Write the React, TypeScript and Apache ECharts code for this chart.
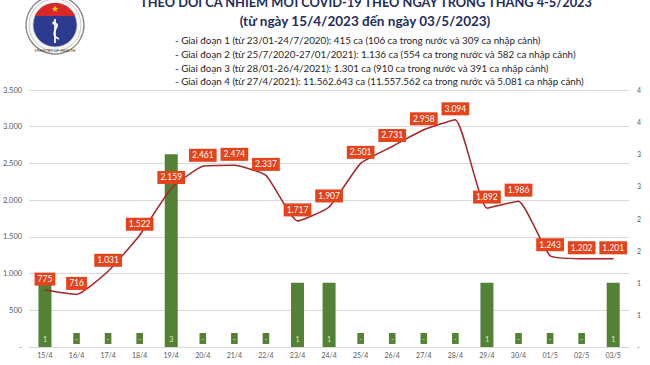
import React, { useEffect, useRef } from "react";
import * as echarts from "echarts";

const categories = ["15/4","16/4","17/4","18/4","19/4","20/4","21/4","22/4","23/4","24/4","25/4","26/4","27/4","28/4","29/4","30/4","01/5","02/5","03/5"];
const dailyCases = [775,716,1031,1522,2159,2461,2474,2337,1717,1907,2501,2731,2958,3094,1892,1986,1243,1202,1201];
const deaths = [1,0,0,0,3,0,0,0,1,1,0,0,0,0,1,0,0,0,1];

const titleLines = [
  "THEO DÕI CA NHIỄM MỚI COVID-19 THEO NGÀY TRONG THÁNG 4-5/2023",
  "(từ ngày 15/4/2023 đến ngày 03/5/2023)",
];
const periodLines = [
  "- Giai đoạn 1 (từ 23/01-24/7/2020): 415 ca (106 ca trong nước và 309 ca nhập cảnh)",
  "- Giai đoạn 2 (từ 25/7/2020-27/01/2021): 1.136 ca (554 ca trong nước và 582 ca nhập cảnh)",
  "- Giai đoạn 3 (từ 28/01-26/4/2021): 1.301 ca (910 ca trong nước và 391 ca nhập cảnh)",
  "- Giai đoạn 4 (từ 27/4/2021): 11.562.643 ca (11.557.562 ca trong nước và 5.081 ca nhập cảnh)",
];

const FONT = "Lato";

function fmtThousands(v: number): string {
  if (v === 0) return "-";
  return Math.round(v).toString().replace(/\B(?=(\d{3})+(?!\d))/g, ".");
}

function buildLogo(): any {
  const cx = 55, cy = 25, rOuter = 29, rInner = 22;
  const chordY = 16;
  const a = Math.abs(Math.asin((chordY - cy) / rInner));
  const segPts: number[][] = [];
  const steps = 28;
  for (let i = 0; i <= steps; i++) {
    const ang = Math.PI + a + (Math.PI - 2 * a) * (i / steps);
    segPts.push([cx + rInner * Math.cos(ang), cy + rInner * Math.sin(ang)]);
  }
  const starPts: number[][] = [];
  for (let i = 0; i < 10; i++) {
    const r = i % 2 === 0 ? 3.4 : 1.4;
    const ang = -Math.PI / 2 + (i * Math.PI) / 5;
    starPts.push([cx + r * Math.cos(ang), 9 + r * Math.sin(ang)]);
  }
  return {
    type: "group",
    silent: true,
    children: [
      { type: "circle", shape: { cx, cy, r: rOuter }, style: { fill: "#ffffff", stroke: "#8a8a8a", lineWidth: 1.4 } },
      { type: "circle", shape: { cx, cy, r: rOuter - 3 }, style: { fill: "#f6f6f6", stroke: "#b5b5b5", lineWidth: 0.7 } },
      { type: "circle", shape: { cx, cy, r: rInner }, style: { fill: "#2c3b8f", stroke: "#d0d0d0", lineWidth: 0.8 } },
      { type: "polygon", shape: { points: segPts }, style: { fill: "#d8262b" } },
      { type: "polygon", shape: { points: starPts }, style: { fill: "#ffd400" } },
      { type: "line", shape: { x1: cx, y1: 19, x2: cx, y2: 43 }, style: { stroke: "#ffffff", lineWidth: 1.7 } },
      { type: "bezierCurve", shape: { x1: cx - 1, y1: 23, cpx1: cx + 9, cpy1: 25, cpx2: cx - 9, cpy2: 33, x2: cx + 4, y2: 39 }, style: { stroke: "#ffffff", lineWidth: 1.7, fill: "none" } },
      { type: "circle", shape: { cx: cx - 1, cy: 23, r: 1.7 }, style: { fill: "#ffffff" } },
      { type: "text", x: cx, y: 50.5, style: { text: "MINISTRY OF HEALTH", fontSize: 4, fill: "#333", align: "center", verticalAlign: "middle", fontFamily: FONT } },
    ],
  };
}

export default function App() {
  const ref = useRef<HTMLDivElement>(null);
  useEffect(() => {
    if (!ref.current) return;
    const chart = echarts.init(ref.current, undefined, { renderer: "svg" });
    const graphics: any[] = [buildLogo()];
    graphics.push({
      type: "text", x: 366, y: 1.5,
      style: { text: titleLines[0], fontSize: 12.8, fontWeight: "bold", fill: "#1f2d5c", align: "center", verticalAlign: "middle", fontFamily: FONT },
    });
    graphics.push({
      type: "text", x: 365, y: 21,
      style: { text: titleLines[1], fontSize: 13.5, fontWeight: "bold", fill: "#1f2d5c", align: "center", verticalAlign: "middle", fontFamily: FONT },
    });
    const ys = [40, 54, 67.5, 81];
    periodLines.forEach((t, i) => {
      graphics.push({
        type: "text", x: 175, y: ys[i],
        style: { text: t, fontSize: 9.8, fill: "#262626", align: "left", verticalAlign: "middle", fontFamily: FONT },
      });
    });

    chart.setOption({
      animation: false,
      textStyle: { fontFamily: FONT },
      grid: { left: 27, right: 21, top: 90, bottom: 18 },
      xAxis: {
        type: "category",
        data: categories,
        axisLine: { lineStyle: { color: "#d9d9d9" } },
        axisTick: { show: false },
        axisLabel: { fontSize: 7, color: "#595959", margin: 4, fontFamily: FONT },
      },
      yAxis: [
        {
          type: "value", min: 0, max: 3500, interval: 500,
          axisLine: { show: false }, axisTick: { show: false },
          splitLine: { lineStyle: { color: "#d9d9d9", width: 1 } },
          axisLabel: { fontSize: 7.5, color: "#595959", margin: 7, formatter: (v: number) => fmtThousands(v), fontFamily: FONT },
        },
        {
          type: "value", min: 0, max: 4, interval: 0.5,
          axisLine: { show: false }, axisTick: { show: false },
          splitLine: { show: false },
          axisLabel: { fontSize: 7, color: "#595959", margin: 8, formatter: (v: number) => (v === 0 ? "-" : String(Math.round(v))), fontFamily: FONT },
        },
      ],
      series: [
        {
          type: "bar",
          yAxisIndex: 1,
          data: deaths,
          barWidth: 13,
          itemStyle: { color: "#538135" },
          label: {
            show: true, position: "insideBottom", distance: 3,
            formatter: (p: any) => (p.value === 0 ? "-" : String(p.value)),
            color: "#e2f0b0", fontSize: 7, backgroundColor: "#538135", padding: [2, 2], fontFamily: FONT,
          },
          z: 2,
        },
        {
          type: "line",
          yAxisIndex: 0,
          data: dailyCases,
          smooth: 0.15,
          symbol: "circle",
          symbolSize: 1,
          showSymbol: true,
          itemStyle: { color: "#a3262a" },
          lineStyle: { color: "#a3262a", width: 1.5 },
          label: {
            show: true, position: "top", distance: 4,
            formatter: (p: any) => fmtThousands(p.value),
            color: "#ffffff", fontSize: 8.5, backgroundColor: "#e4431b", padding: [2, 3], fontFamily: FONT,
          },
          labelLayout: { hideOverlap: false },
          z: 3,
        },
      ],
      graphic: graphics,
    });
    return () => chart.dispose();
  }, []);
  return <div ref={ref} style={{ position: "fixed", left: 0, top: 0, width: 650, height: 365, background: "#fff" }} />;
}
